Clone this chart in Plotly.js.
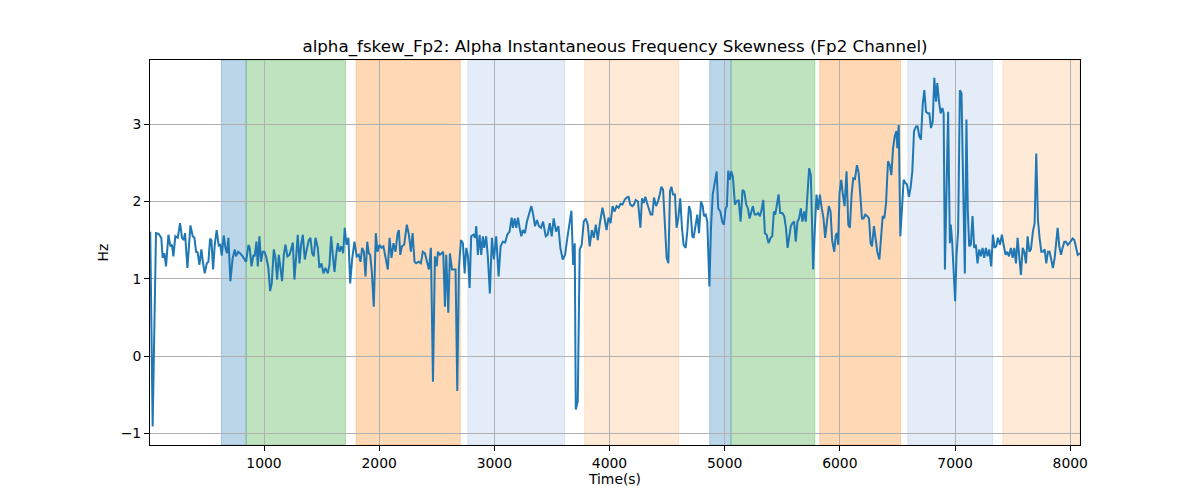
<!DOCTYPE html>
<html>
<head>
<meta charset="utf-8">
<script src="https://cdn.plot.ly/plotly-3.0.1.min.js"></script>
<style>
  body { margin: 0; background: #fff; }
  #chart { width: 1200px; height: 500px; }
</style>
</head>
<body>
<div id="chart"></div>
<script>
// time (s) and alpha frequency skewness (Hz)
var timeSec = [
  12, 33, 62, 85, 108, 120, 135, 149, 170, 187, 201, 213, 230, 251, 271, 288, 303, 314, 335, 361,
  381, 396, 410, 424, 439, 456, 471, 485, 503, 517, 532, 543, 558, 572, 589, 607, 621, 633, 650, 665,
  679, 691, 708, 728, 746, 757, 775, 792, 815, 844, 865, 876, 891, 908, 919, 934, 946, 960, 974, 989,
  1003, 1018, 1038, 1053, 1067, 1085, 1099, 1114, 1128, 1143, 1157, 1172, 1186, 1203, 1221, 1235, 1250, 1264, 1279, 1293,
  1308, 1322, 1337, 1354, 1371, 1389,
  1403, 1418, 1432, 1447, 1467, 1481, 1499, 1516, 1533, 1554, 1568, 1583, 1597, 1612, 1626, 1641, 1655, 1670, 1687, 1701,
  1716, 1733, 1748, 1765, 1785, 1805, 1823, 1838, 1852, 1867, 1881, 1896, 1910, 1922, 1936, 1953, 1971, 1985, 2003, 2020,
  2037, 2055, 2075, 2090, 2107, 2124, 2142, 2160, 2171, 2183, 2197, 2217, 2240, 2258, 2275, 2290, 2307, 2321, 2342, 2362,
  2379, 2397, 2414, 2432, 2449, 2467, 2484, 2499, 2510, 2527, 2542, 2556, 2571, 2582, 2600, 2614, 2632, 2649, 2663, 2678,
  2692, 2710, 2727, 2742, 2756, 2771, 2785,
  2799, 2819, 2833, 2843, 2857, 2872, 2886, 2900, 2912, 2929, 2944, 2961, 2979, 2996, 3016, 3037, 3054, 3074, 3094, 3112,
  3132, 3150, 3161, 3176, 3190, 3205, 3219, 3234, 3248, 3266, 3283, 3300, 3321, 3335, 3353, 3370, 3388, 3405, 3423, 3446,
  3463, 3481, 3498, 3515, 3536, 3556, 3573, 3594, 3614, 3631, 3649, 3669, 3684, 3698, 3707, 3724, 3741, 3759, 3776, 3794,
  3811, 3828, 3846, 3863, 3881, 3898, 3916, 3939, 3957, 3974, 3991, 4009, 4026, 4044, 4061, 4079, 4096, 4113, 4131, 4148,
  4165,
  4180, 4198, 4212, 4227, 4247, 4268, 4282, 4297, 4311, 4326, 4340, 4357, 4372, 4386, 4404, 4421, 4436, 4450, 4465, 4482,
  4496, 4511, 4525, 4537, 4551, 4568, 4582, 4597, 4614, 4629, 4643, 4661, 4675, 4690, 4704, 4719, 4730, 4748, 4762, 4777,
  4794, 4809, 4820, 4835, 4849, 4867, 4881, 4896, 4913, 4930, 4944, 4962, 4979, 4993, 5008, 5019, 5031, 5045, 5057, 5071,
  5089, 5103, 5121, 5138, 5155, 5170, 5187, 5202, 5216, 5231, 5245, 5260, 5274, 5291, 5306, 5320, 5335, 5349, 5364, 5381,
  5398, 5413, 5427, 5439, 5453, 5468, 5482, 5500, 5517, 5532, 5546, 5564,
  5574, 5588, 5603, 5617, 5632, 5646, 5661, 5675, 5690, 5704, 5722, 5733, 5748, 5768, 5783, 5797, 5812, 5826, 5843, 5858,
  5872, 5887, 5904, 5919, 5933, 5951, 5965, 5977, 5985, 5997, 6012, 6026, 6041, 6058, 6073, 6087, 6102, 6116, 6131, 6148,
  6163, 6177, 6192, 6206, 6221, 6238, 6253, 6267, 6279, 6296, 6311, 6325, 6343, 6357, 6372, 6386, 6401, 6418, 6433, 6447,
  6462, 6476, 6491, 6499, 6511, 6525, 6540, 6554, 6569, 6583, 6600, 6615, 6629, 6644, 6661, 6675, 6690, 6704, 6719, 6733,
  6748, 6762, 6777, 6791, 6806, 6820, 6835, 6846, 6861, 6875, 6890, 6901,
  6912, 6926, 6940, 6955, 6963, 6975, 6986, 7001, 7013, 7027, 7042, 7056, 7071, 7085, 7099, 7111, 7123, 7137, 7152, 7166,
  7181, 7195, 7210, 7224, 7239, 7253, 7268, 7282, 7297, 7314, 7329, 7343, 7358, 7372, 7390, 7407, 7424, 7439, 7453, 7468,
  7485, 7500, 7514, 7529, 7543, 7558, 7572, 7587, 7601, 7616, 7630, 7645, 7659, 7676, 7691, 7705, 7720, 7734, 7749, 7763,
  7778, 7792, 7807, 7821, 7836, 7850, 7865, 7879, 7891, 7905, 7920, 7934, 7949, 7963, 7978, 7992, 8007, 8021, 8036, 8050,
  8065, 8085
];

var skewHz = [
  1.61, -0.91, 1.59, 1.58, 1.53, 1.27, 1.33, 1.16, 1.57, 1.42, 1.44, 1.29, 1.55, 1.53, 1.72, 1.53, 1.50, 1.59, 1.14, 1.69,
  1.55, 1.53, 1.35, 1.34, 1.18, 1.38, 1.20, 1.07, 1.20, 1.22, 1.52, 1.50, 1.12, 1.44, 1.63, 1.43, 1.44, 1.30, 1.56, 1.40,
  1.33, 1.53, 0.97, 1.27, 1.38, 1.29, 1.35, 1.33, 1.29, 1.22, 1.44, 1.40, 1.16, 1.31, 1.29, 1.48, 1.16, 1.55, 1.22, 1.35,
  1.35, 1.29, 1.14, 0.84, 0.94, 1.38, 1.27, 0.99, 1.31, 1.14, 0.97, 1.31, 1.44, 1.29, 1.31, 1.38, 1.47, 0.99, 1.33, 1.57,
  1.20, 1.44, 1.57, 1.25, 1.38, 1.50,
  1.53, 1.33, 1.29, 1.53, 1.40, 1.14, 1.20, 1.07, 1.14, 1.07, 1.18, 1.55, 1.31, 1.09, 1.31, 1.46, 1.35, 1.42, 1.33, 1.66,
  1.44, 1.53, 0.94, 1.25, 1.48, 1.29, 1.31, 1.22, 1.40, 1.35, 1.03, 1.48, 1.33, 1.31, 1.09, 0.64, 1.59, 1.35, 1.44, 1.40,
  1.42, 1.27, 1.12, 1.53, 1.27, 1.46, 1.35, 1.59, 1.63, 1.31, 1.42, 1.44, 1.70, 1.57, 1.35, 1.59, 1.22, 1.20, 1.22, 1.20,
  1.35, 1.33, 1.22, 1.12, 1.40, -0.33, 1.29, 1.16, 1.35, 1.31, 1.33, 1.35, 0.64, 1.31, 0.56, 1.33, 1.12, 1.12, 1.12, -0.45,
  1.14, 1.50, 1.46, 1.07, 1.40, 1.29, 0.88,
  1.55, 1.57, 1.53, 1.68, 1.31, 1.57, 1.31, 1.55, 1.40, 1.55, 1.27, 0.81, 1.53, 1.25, 1.55, 1.03, 1.42, 1.48, 1.47, 1.57,
  1.61, 1.79, 1.66, 1.78, 1.66, 1.79, 1.66, 1.55, 1.63, 1.59, 1.74, 1.83, 1.94, 1.85, 1.68, 1.76, 1.68, 1.66, 1.74, 1.55,
  1.57, 1.72, 1.55, 1.78, 1.61, 1.68, 1.40, 1.25, 1.31, 1.50, 1.68, 1.88, 1.18, 1.46, -0.69, -0.59, 1.38, 1.44, 1.74, 1.78,
  1.70, 1.42, 1.63, 1.53, 1.70, 1.50, 1.72, 1.92, 1.78, 1.63, 1.79, 1.72, 1.94, 1.87, 1.94, 1.92, 1.97, 1.96, 2.02, 2.05,
  2.06,
  1.96, 1.94, 1.96, 2.02, 2.00, 1.66, 2.04, 1.98, 2.06, 1.98, 1.91, 1.83, 1.83, 2.05, 1.94, 2.00, 2.09, 2.19, 2.15, 1.66,
  1.27, 1.20, 2.13, 2.19, 2.09, 2.09, 1.66, 1.78, 2.04, 1.66, 1.44, 1.40, 1.61, 1.94, 1.87, 1.55, 1.53, 1.70, 1.83, 1.59,
  2.00, 1.94, 1.81, 1.83, 1.74, 0.90, 1.66, 2.09, 2.24, 2.39, 1.91, 1.87, 1.74, 1.70, 1.91, 1.94, 2.40, 2.28, 2.39, 2.32,
  1.96, 2.00, 2.02, 1.74, 2.15, 2.13, 1.96, 1.91, 1.78, 1.87, 1.94, 1.83, 1.83, 1.85, 1.81, 1.89, 2.02, 1.59, 1.57, 1.46,
  1.53, 1.55, 1.87, 1.83, 1.98, 2.09, 1.85, 1.85, 1.81, 1.66, 1.40, 1.59,
  1.68, 1.72, 1.74, 1.48, 1.74, 1.78, 1.91, 1.74, 1.87, 1.74, 2.09, 2.43, 2.34, 1.12, 1.66, 2.09, 1.89, 2.09, 1.91, 1.78,
  1.53, 1.74, 1.94, 1.87, 1.50, 1.35, 1.57, 1.59, 1.44, 2.11, 2.28, 2.09, 1.94, 2.39, 1.70, 1.66, 2.09, 2.30, 2.29, 2.47,
  2.37, 2.09, 1.78, 1.78, 1.83, 1.81, 1.78, 1.46, 1.42, 1.68, 1.46, 1.35, 1.25, 1.48, 1.81, 1.78, 1.98, 2.52, 2.47, 2.34,
  2.69, 2.84, 2.91, 2.69, 2.99, 1.55, 1.91, 2.28, 2.24, 2.22, 2.06, 2.19, 2.39, 2.91, 2.97, 2.97, 2.84, 2.80, 3.25, 3.44,
  3.16, 3.14, 3.14, 2.95, 3.03, 3.60, 3.29, 3.53, 3.29, 3.14, 3.21, 3.14,
  1.12, 2.17, 3.16, 1.46, 1.70, 1.48, 1.14, 0.71, 1.31, 1.63, 3.44, 3.40, 2.17, 1.07, 3.06, 1.87, 1.42, 1.44, 1.81, 1.40,
  1.44, 1.20, 1.38, 1.29, 1.40, 1.27, 1.40, 1.29, 1.38, 1.16, 1.57, 1.40, 1.42, 1.53, 1.44, 1.57, 1.42, 1.31, 1.35, 1.29,
  1.40, 1.27, 1.40, 1.20, 1.53, 1.27, 1.05, 1.40, 1.35, 1.20, 1.55, 1.35, 1.38, 1.61, 1.72, 2.62, 1.76, 1.53, 1.35, 1.35,
  1.38, 1.20, 1.35, 1.35, 1.22, 1.14, 1.27, 1.46, 1.66, 1.42, 1.31, 1.40, 1.48, 1.48, 1.44, 1.46, 1.50, 1.52, 1.50, 1.40,
  1.31, 1.33
];

// shaded segments (start / end in seconds)
var spanStart = [630, 845, 1800, 2770, 3784, 4870, 5055, 5825, 6590, 7415];
var spanEnd   = [845, 1707, 2704, 3610, 4600, 5055, 5782, 6526, 7326, 8085];
var spanKind  = ['blue', 'green', 'orange', 'lightblue', 'lightorange',
                 'blue', 'green', 'orange', 'lightblue', 'lightorange'];

var xTicks = [1000, 2000, 3000, 4000, 5000, 6000, 7000, 8000];
var yTicks = [-1, 0, 1, 2, 3];

var spanFill = {
  blue: 'rgba(31,119,180,0.3)',
  green: 'rgba(44,160,44,0.3)',
  orange: 'rgba(255,127,14,0.3)',
  lightblue: 'rgba(70,130,200,0.15)',
  lightorange: 'rgba(255,127,14,0.16)'
};

var shapes = spanStart.map(function (s, i) {
  var c = spanFill[spanKind[i]];
  return {
    type: 'rect', xref: 'x', yref: 'paper',
    x0: s, x1: spanEnd[i], y0: 0, y1: 1,
    fillcolor: c, line: {color: c, width: 1},
    layer: 'below'
  };
});

var trace = {
  x: timeSec,
  y: skewHz,
  mode: 'lines',
  type: 'scatter',
  line: {color: '#1f77b4', width: 2},
  hoverinfo: 'x+y'
};

var fontBase = {family: 'DejaVu Sans, sans-serif', size: 13.9, color: '#000'};

var layout = {
  width: 1200,
  height: 500,
  paper_bgcolor: '#fff',
  plot_bgcolor: 'rgba(0,0,0,0)',
  font: fontBase,
  showlegend: false,
  margin: {l: 150, r: 120, t: 60, b: 55},
  title: {
    text: 'alpha_fskew_Fp2: Alpha Instantaneous Frequency Skewness (Fp2 Channel)',
    font: {family: 'DejaVu Sans, sans-serif', size: 16.7, color: '#000'},
    x: 0.5125, xanchor: 'center',
    yref: 'container', y: 0.908, yanchor: 'middle'
  },
  xaxis: {
    range: [10, 8085],
    tickvals: xTicks,
    ticks: 'outside', ticklen: 5, tickcolor: '#000',
    showgrid: true, gridcolor: '#b0b0b0', gridwidth: 1,
    showline: true, linecolor: '#000', linewidth: 1, mirror: true,
    zeroline: false,
    title: {text: 'Time(s)', font: fontBase, standoff: 4}
  },
  yaxis: {
    range: [-1.15, 3.83],
    tickvals: yTicks,
    ticks: 'outside', ticklen: 5, tickcolor: '#000',
    showgrid: true, gridcolor: '#b0b0b0', gridwidth: 1,
    showline: true, linecolor: '#000', linewidth: 1, mirror: true,
    zeroline: false,
    title: {text: 'Hz', font: fontBase, standoff: 8}
  },
  shapes: shapes
};

Plotly.newPlot('chart', [trace], layout, {staticPlot: true, displayModeBar: false});
</script>
</body>
</html>
